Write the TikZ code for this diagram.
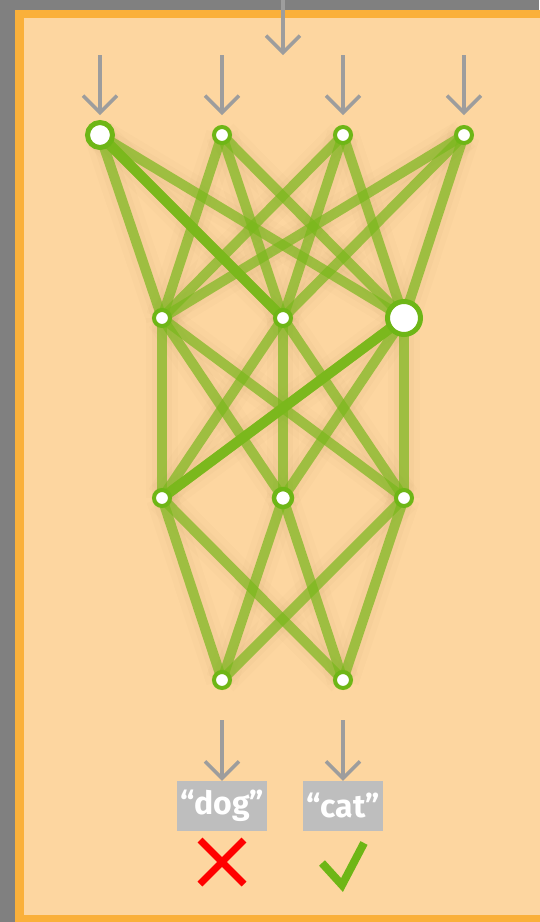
\documentclass[tikz,border=0pt]{standalone}
\usepackage{fontspec}
\setsansfont{Fira Sans}
\usetikzlibrary{arrows.meta}

\definecolor{gris}{RGB}{128,128,128}
\definecolor{cadre}{RGB}{250,176,58}
\definecolor{peche}{RGB}{253,214,160}
\definecolor{vert}{RGB}{110,182,22}
\definecolor{lien}{RGB}{122,184,28}
\definecolor{fleche}{RGB}{157,157,157}
\definecolor{etiq}{RGB}{190,190,190}

\pgfdeclarelayer{arriere}
\pgfdeclarelayer{liens}
\pgfsetlayers{arriere,liens,main}

\tikzset{
  neurone/.style={circle,draw=vert,fill=white,line width=4pt,minimum size=16pt,inner sep=0pt},
  moyen/.style={line width=4.5pt,minimum size=18pt},
  gros/.style={line width=5pt,minimum size=25pt},
  tresgros/.style={line width=5pt,minimum size=33pt},
  synapse/.style={draw=lien,line width=10pt,opacity=0.7},
  synapsefort/.style={draw=lien,line width=10pt,opacity=0.95},
  ombre/.style={draw=brown!70!black,line width=32pt,opacity=0.025},
  ombre2/.style={draw=brown!70!black,line width=20pt,opacity=0.03},
  feed/.style={draw=fleche,line width=3.5pt,-{Straight Barb[length=17pt,width=34pt]}},
  etiquette/.style={fill=etiq,text=white,minimum height=50pt,inner xsep=2pt,
    font=\sffamily\bfseries\fontsize{32}{34}\selectfont}
}

\begin{document}
\begin{tikzpicture}[x=1pt,y=-1pt]
\useasboundingbox (0,0) rectangle (539,922);
\begin{pgfonlayer}{arriere}
\fill[gris] (0,0) rectangle (539,922);
\fill[cadre] (15,10) rectangle (545,930);
\fill[peche] (24,18) rectangle (545,915);
\end{pgfonlayer}

%%%%%%%%%%% neurones
% ---------------    entree
\node[neurone,gros] (e1) at (100,135) {};
\node[neurone] (e2) at (222,135) {};
\node[neurone] (e3) at (343,135) {};
\node[neurone] (e4) at (464,135) {};
% ---------------    couche 1
\node[neurone] (c1) at (162,318) {};
\node[neurone] (c2) at (283,318) {};
\node[neurone,tresgros] (c3) at (404,318) {};
% ---------------    couche 2
\node[neurone] (d1) at (162,498) {};
\node[neurone,moyen] (d2) at (283,498) {};
\node[neurone] (d3) at (404,498) {};
% ---------------    sortie
\node[neurone] (s1) at (222,680) {};
\node[neurone] (s2) at (343,680) {};

%%%%%%%%%%% liens
\begin{pgfonlayer}{liens}
\foreach \st in {ombre,ombre2,synapse}{
\foreach \a in {1,...,4}{\foreach \b in {1,2,3}{
	\draw[\st] (e\a.center) -- (c\b.center);
}}
\foreach \a in {1,2,3}{\foreach \b in {1,2,3}{
	\draw[\st] (c\a.center) -- (d\b.center);
}}
\foreach \a in {1,2,3}{\foreach \b in {1,2}{
	\draw[\st] (d\a.center) -- (s\b.center);
}}
}
\draw[synapsefort] (e1.center) -- (c2.center);
\draw[synapsefort] (c3.center) -- (d1.center);
\end{pgfonlayer}

%%%%%%%%%%% fleches
\coordinate (haut) at (283,0);
\coordinate (entree) at (283,55);
\draw[feed] (haut) -- (entree);
\foreach \n in {1,...,4}{
	\draw[feed] ([yshift=80pt]e\n.center) -- ([yshift=20pt]e\n.center);
}

% ---------------    reponses
\node[etiquette,minimum width=90pt] (chien) at (222,806) {“dog”};
\node[etiquette,minimum width=80pt] (chat) at (343,806) {“cat”};
\draw[feed] ([yshift=-40pt]s1.center) -- (chien.north);
\draw[feed] ([yshift=-40pt]s2.center) -- (chat.north);

\draw[red,line width=7pt] (200,840) -- (244,884) (244,840) -- (200,884);
\draw[vert,line width=8pt] (322,863) -- (342,885) -- (364,843);
\end{tikzpicture}
\end{document}
